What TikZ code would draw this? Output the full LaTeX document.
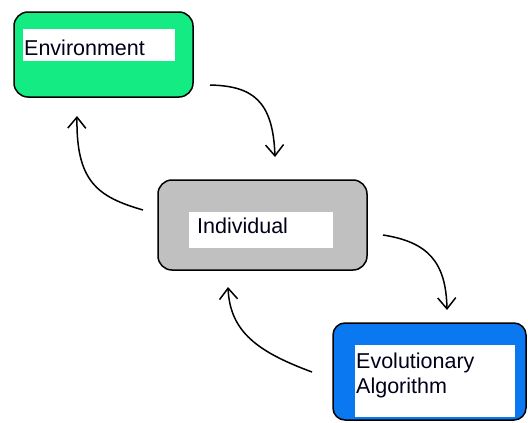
\documentclass[tikz,border=0pt]{standalone}
\usepackage{fontspec}
\setmainfont{Liberation Sans}
\usetikzlibrary{arrows.meta}
\definecolor{envgreen}{RGB}{20,235,130}
\definecolor{indgray}{RGB}{192,192,192}
\definecolor{eablue}{RGB}{10,120,240}
\tikzset{
  outerbox/.style={draw=black, line width=1.5pt, rounded corners=14pt, inner sep=0pt},
  whitebox/.style={fill=white, draw=none, inner sep=0pt, anchor=north west},
  lbl/.style={font=\fontsize{21.5}{25}\selectfont, inner sep=0pt, anchor=base west, text=black!90!blue},
  flow/.style={line width=1.5pt, -{Straight Barb[length=11pt,width=18pt,line width=1.5pt]}}
}
\begin{document}
\begin{tikzpicture}[x=1pt,y=-1pt]
\useasboundingbox (0,0) rectangle (528,423);
% Environment
\node[outerbox, fill=envgreen, minimum width=179pt, minimum height=85pt] (env) at (103.5,54.5) {};
\node[whitebox, minimum width=152pt, minimum height=32pt] (envw) at (23,29) {};
\node[lbl] (envt) at (24,55) {Environment};
% Individual
\node[outerbox, fill=indgray, minimum width=209pt, minimum height=90pt] (ind) at (262.5,225) {};
\node[whitebox, minimum width=144pt, minimum height=36pt] (indw) at (189,212) {};
\node[lbl] (indt) at (197,233) {Individual};
% Evolutionary Algorithm
\node[outerbox, fill=eablue, rounded corners=12pt, minimum width=193pt, minimum height=97pt] (ea) at (429.5,371.5) {};
\node[whitebox, minimum width=160pt, minimum height=72pt] (eaw) at (355,345) {};
\node[lbl] (eat1) at (356,368) {Evolutionary};
\node[lbl] (eat2) at (356,393) {Algorithm};
% connector ends
\coordinate (a1s) at (210,85);
\coordinate (a1e) at (275,157);
\coordinate (a2s) at (143,210);
\coordinate (a2e) at (77,116);
\coordinate (a3s) at (383,235);
\coordinate (a3e) at (447,310);
\coordinate (a4s) at (312,372);
\coordinate (a4e) at (228,287);
\draw[flow] (a1s) .. controls (252,86) and (273,100) .. (a1e);
\draw[flow] (a2s) .. controls (98,197) and (76,182) .. (a2e);
\draw[flow] (a3s) .. controls (428,242) and (446,262) .. (a3e);
\draw[flow] (a4s) .. controls (258,352) and (230,332) .. (a4e);
\end{tikzpicture}
\end{document}
